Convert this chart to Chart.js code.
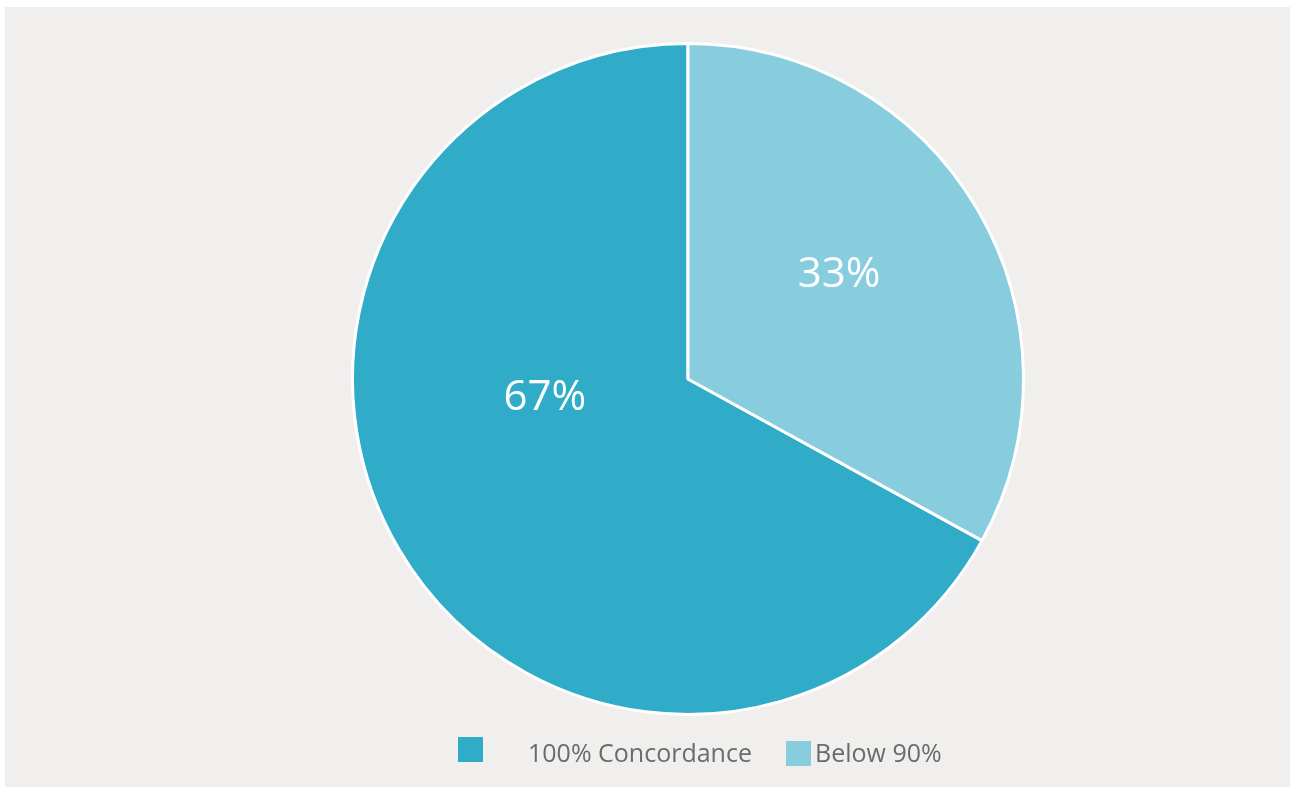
<!DOCTYPE html>
<html>
<head>
<meta charset="utf-8">
<script src="https://cdn.jsdelivr.net/npm/chart.js@4"></script>
<style>
  body { margin: 0; background: #ffffff; }
  #panel { position: absolute; left: 5px; top: 7px; width: 1285px; height: 780px; background: #f0efed; }
  #chart { position: absolute; left: 0; top: 0; }
  .legend-item { position: absolute; font-family: "Open Sans", sans-serif; font-size: 25px; color: #6b6b6b; line-height: 25px; white-space: nowrap; }
  .legend-box { position: absolute; width: 25px; height: 25px; }
</style>
</head>
<body>
<div id="panel"></div>
<canvas id="chart" width="1298" height="791"></canvas>
<div id="legend"></div>
<script>
var categories = ['100% Concordance', 'Below 90%'];
var shares = [67, 33];
var sliceColors = ['#31acc8', '#87cdde'];

// where each percentage label sits: fraction along the slice, fraction of radius
var labelSpots = [[0.598, 0.43], [0.463, 0.55]];

var total = shares.reduce(function (a, b) { return a + b; }, 0);

var pieLabels = {
    id: 'pieLabels',
    afterDatasetsDraw: function (chart) {
        var ctx = chart.ctx;
        var meta = chart.getDatasetMeta(0);
        ctx.save();
        ctx.fillStyle = '#ffffff';
        ctx.font = '42px "Open Sans"';
        ctx.textAlign = 'center';
        ctx.textBaseline = 'middle';
        meta.data.forEach(function (arc, i) {
            var a = arc.startAngle + (arc.endAngle - arc.startAngle) * labelSpots[i][0];
            var r = arc.outerRadius * labelSpots[i][1];
            var v = Math.round(shares[i] / total * 100) + '%';
            ctx.fillText(v, arc.x + Math.cos(a) * r, arc.y + Math.sin(a) * r + 2);
        });
        ctx.restore();
    }
};

var ctx = document.getElementById('chart').getContext('2d');
var pieChart = new Chart(ctx, {
    type: 'pie',
    data: {
        labels: categories,
        datasets: [{
            data: shares,
            backgroundColor: sliceColors,
            borderColor: '#ffffff',
            borderWidth: 3,
            hoverOffset: 0
        }]
    },
    options: {
        responsive: false,
        animation: false,
        rotation: shares[1] / total * 360,
        events: [],
        plugins: {
            legend: { display: false },
            tooltip: { enabled: false }
        },
        layout: {
            padding: { top: 42, bottom: 75, left: 351, right: 273 }
        }
    },
    plugins: [pieLabels]
});

// legend below the pie
var legendSpots = [
    { box: [458, 737], text: [528, 740] },
    { box: [786, 741], text: [815, 740] }
];
var legend = document.getElementById('legend');
categories.forEach(function (name, i) {
    var box = document.createElement('div');
    box.className = 'legend-box';
    box.style.left = legendSpots[i].box[0] + 'px';
    box.style.top = legendSpots[i].box[1] + 'px';
    box.style.background = sliceColors[i];
    legend.appendChild(box);
    var txt = document.createElement('div');
    txt.className = 'legend-item';
    txt.style.left = legendSpots[i].text[0] + 'px';
    txt.style.top = legendSpots[i].text[1] + 'px';
    txt.textContent = name;
    legend.appendChild(txt);
});
</script>
</body>
</html>
